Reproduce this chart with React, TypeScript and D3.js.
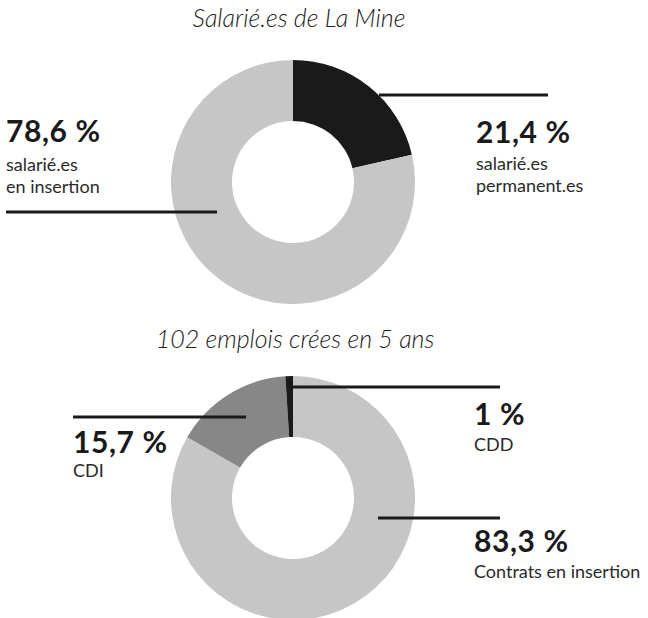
import React from "react";
import * as d3 from "d3";

// chart 1 : salarié.es de La Mine
const staffLabels = ["salarié.es permanent.es", "salarié.es en insertion"];
const staffValues = [21.4, 78.6];
const staffColors = ["#1a1a1a", "#c6c6c6"];

// chart 2 : 102 emplois créés en 5 ans
const jobLabels = ["Contrats en insertion", "CDI", "CDD"];
const jobValues = [83.3, 15.7, 1];
const jobColors = ["#c6c6c6", "#878787", "#1a1a1a"];

const W = 648;
const H = 618;
const font = "Lato, 'Open Sans', sans-serif";
const ink = "#1a1a1a";

function Donut({ cx, cy, values, colors }: { cx: number; cy: number; values: number[]; colors: string[] }) {
  const pie = d3.pie<number>().sort(null).value((d) => d);
  const arc = d3.arc<d3.PieArcDatum<number>>().innerRadius(61).outerRadius(122);
  return (
    <g transform={`translate(${cx},${cy})`}>
      {pie(values).map((a, i) => (
        <path key={i} d={arc(a) || ""} fill={colors[i]} />
      ))}
    </g>
  );
}

function Label({ x, y, pct, lines, gap = 28 }: { x: number; y: number; pct: string; lines: string[]; gap?: number }) {
  return (
    <g fill={ink} fontFamily={font}>
      <text x={x} y={y} fontSize={30} fontWeight={700} letterSpacing={0.6}>{pct}</text>
      {lines.map((l, i) => (
        <text key={i} x={x} y={y + gap + i * 22} fontSize={18} fontWeight={400} fill="#2a2a2a">{l}</text>
      ))}
    </g>
  );
}

export default function App() {
  const fmt = (v: number) => String(v).replace(".", ",") + " %";
  return (
    <svg width={W} height={H} style={{ position: "absolute", left: 0, top: 0 }}>
      <rect width={W} height={H} fill="#fff" />
      <text x={299} y={27} textAnchor="middle" fontFamily={font} fontStyle="italic" fontWeight={300} fontSize={25} fill="#222">
        Salarié.es de La Mine
      </text>
      <Donut cx={293} cy={182} values={staffValues} colors={staffColors} />
      <line x1={379} x2={548} y1={95} y2={95} stroke={ink} strokeWidth={3} />
      <line x1={6} x2={217} y1={212} y2={212} stroke={ink} strokeWidth={3} />
      <Label x={476} y={143} gap={27} pct={fmt(staffValues[0])} lines={["salarié.es", "permanent.es"]} />
      <Label x={6} y={142} gap={29} pct={fmt(staffValues[1])} lines={["salarié.es", "en insertion"]} />

      <text x={295} y={348} textAnchor="middle" fontFamily={font} fontStyle="italic" fontWeight={300} fontSize={25} fill="#222">
        102 emplois crées en 5 ans
      </text>
      <Donut cx={293} cy={498} values={jobValues} colors={jobColors} />
      <line x1={73} x2={246} y1={417} y2={417} stroke={ink} strokeWidth={3} />
      <line x1={292} x2={500} y1={387} y2={387} stroke={ink} strokeWidth={3} />
      <line x1={378} x2={500} y1={518} y2={518} stroke={ink} strokeWidth={3} />
      <Label x={73} y={453} gap={24} pct={fmt(jobValues[1])} lines={[jobLabels[1]]} />
      <Label x={474} y={425} gap={26} pct={fmt(jobValues[2])} lines={[jobLabels[2]]} />
      <Label x={474} y={552} gap={26} pct={fmt(jobValues[0])} lines={[jobLabels[0]]} />
    </svg>
  );
}
